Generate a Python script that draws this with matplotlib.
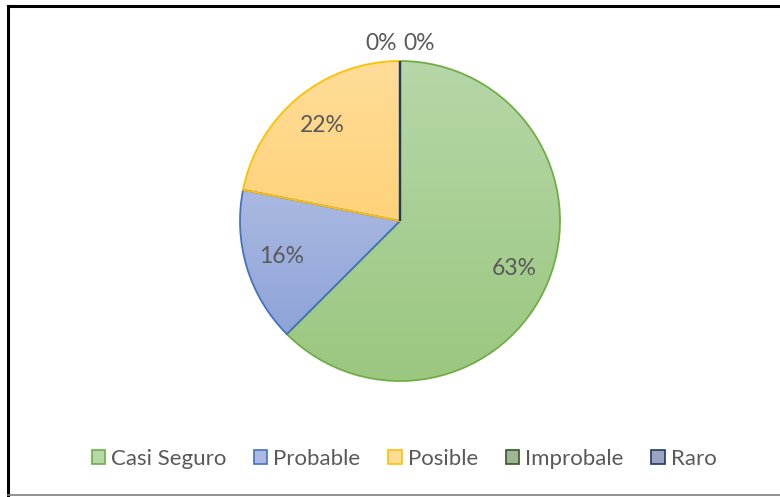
import numpy as np
import matplotlib.pyplot as plt
from matplotlib.patches import Patch
from matplotlib.lines import Line2D

# data
labels = ['Casi Seguro', 'Probable', 'Posible', 'Improbale', 'Raro']
counts = [20, 5, 7, 0, 0]

edge_colors = ['#70AD47', '#4472C4', '#FFC000', '#375623', '#203864']
top_colors = ['#B6D7A8', '#ABB9E2', '#FFDC98', '#9FB596', '#9AA3C0']
bot_colors = ['#9BC77F', '#8DA3D7', '#FFD37A', '#7F9C74', '#7C88AA']
txt_color = '#595959'

plt.rcParams['font.family'] = ['Lato', 'DejaVu Sans']

fig = plt.figure(figsize=(7.8, 4.97), dpi=100)
W, H = 780, 497
cx, cy, R = 400, 221, 160
ax = fig.add_axes([(cx - 1.25 * R) / W, (H - cy - 1.25 * R) / H, 2.5 * R / W, 2.5 * R / H])

total = sum(counts)
wedges, _ = ax.pie(counts, startangle=90, counterclock=False,
                   colors=top_colors,
                   wedgeprops=dict(linewidth=1.3))
ax.set_xlim(-1.25, 1.25)
ax.set_ylim(-1.25, 1.25)

# gradient fill per wedge, edge drawn on top
for w, ec, c1, c2 in zip(wedges, edge_colors, top_colors, bot_colors):
    w.set_edgecolor(ec)
    if w.theta2 - w.theta1 <= 0:
        # empty slices: just a line from centre to the top, drawn last
        w.set_zorder(5)
        w.set_linewidth(1.6)
        continue
    a = np.array([int(c1[i:i + 2], 16) for i in (1, 3, 5)]) / 255
    b = np.array([int(c2[i:i + 2], 16) for i in (1, 3, 5)]) / 255
    t = np.linspace(0, 1, 256)[:, None]
    grad = (a + (b - a) * t)[:, None, :]
    bb = w.get_path().get_extents(w.get_patch_transform())
    im = ax.imshow(grad, extent=[bb.x0, bb.x1, bb.y0, bb.y1], aspect='auto',
                   origin='upper', zorder=w.get_zorder() + 0.1, interpolation='bilinear')
    im.set_clip_path(w)
    w.set_facecolor('none')
    w.set_zorder(w.get_zorder() + 0.2)

# percentage labels
zero_side = -1
for w, n in zip(wedges, counts):
    pct = int(100.0 * n / total + 0.5)
    ang = np.deg2rad((w.theta1 + w.theta2) / 2)
    if n > 0:
        x, y = 0.77 * np.cos(ang), 0.77 * np.sin(ang)
    else:
        x, y = 0.12 * zero_side, 1.11
        zero_side = -zero_side
    ax.text(x, y, f'{pct}%', ha='center', va='center', fontsize=16.5,
            color=txt_color, zorder=10)

handles = [Patch(facecolor=c, edgecolor=e, linewidth=1.2)
           for c, e in zip(top_colors, edge_colors)]
fig.legend(handles, labels, loc='center', bbox_to_anchor=(404 / W, 1 - 459 / H),
           ncol=5, frameon=False, fontsize=16, labelcolor=txt_color,
           handlelength=0.6, handleheight=0.6, handletextpad=0.27, columnspacing=1.25)

# outer frame
fig.add_artist(Line2D([8 / W, 1], [1 - 6 / H, 1 - 6 / H], color='black', lw=2.2))
fig.add_artist(Line2D([8 / W, 8 / W], [1 - 6 / H, 1 - 495 / H], color='black', lw=2.2))
fig.add_artist(Line2D([8 / W, 1], [1 - 495 / H, 1 - 495 / H], color='#7f7f7f', lw=1.2))

fig.savefig('out.png', dpi=100)
